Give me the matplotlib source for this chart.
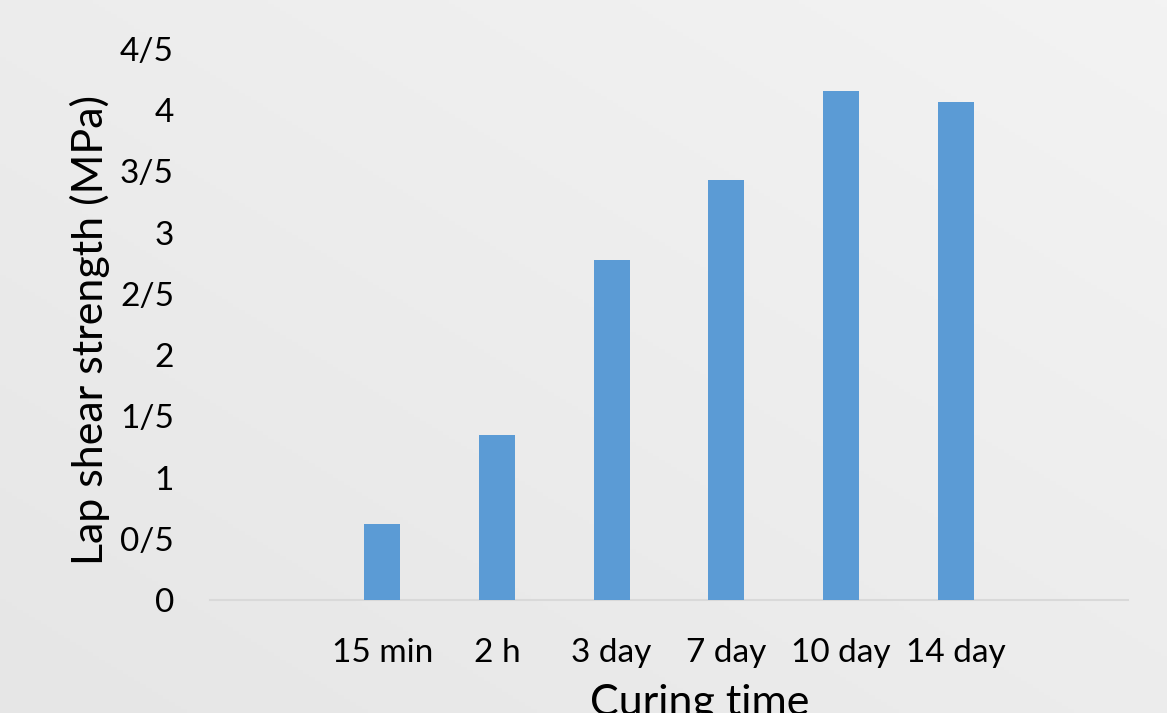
import matplotlib
matplotlib.use("Agg")
import matplotlib.pyplot as plt
import numpy as np

categories = ["", "15 min", "2 h", "3 day", "7 day", "10 day", "14 day", ""]
values = [0, 0.62, 1.35, 2.78, 3.43, 4.16, 4.07, 0]
ytick_values = [0, 0.5, 1, 1.5, 2, 2.5, 3, 3.5, 4, 4.5]
ytick_labels = ["0", "0/5", "1", "1/5", "2", "2/5", "3", "3/5", "4", "4/5"]

plt.rcParams['font.family'] = ['Lato', 'DejaVu Sans']

W, H = 1167, 713
fig = plt.figure(figsize=(W / 100, H / 100), dpi=100)

# gradient background
bg = fig.add_axes([0, 0, 1, 1], zorder=-10)
yy, xx = np.mgrid[0:1:200j, 0:1:200j]
grad = 0.5 * xx + 0.5 * yy
bg.imshow(grad, cmap=matplotlib.colors.LinearSegmentedColormap.from_list(
    "g", ["#e6e6e6", "#f3f3f3"]), origin="lower", extent=[0, 1, 0, 1],
    aspect="auto")
bg.axis("off")

ax = fig.add_axes([210 / W, 1 - 600 / H, (1128 - 210) / W, (600 - 49) / H])
ax.patch.set_alpha(0)
x = np.arange(len(categories))
ax.bar(x, values, width=0.313, color="#5B9BD5", zorder=3)
ax.set_xlim(-0.5, len(categories) - 0.5)
ax.set_ylim(0, 4.5)
ax.set_yticks(ytick_values)
ax.set_yticklabels(ytick_labels)
ax.set_xticks(x)
ax.set_xticklabels(categories)
for s in ["top", "right", "left"]:
    ax.spines[s].set_visible(False)
ax.spines["bottom"].set_color("#d9d9d9")
ax.spines["bottom"].set_linewidth(1.5)
ax.tick_params(axis="both", length=0, labelsize=24, colors="black")
ax.tick_params(axis="y", pad=26)
ax.tick_params(axis="x", pad=27)
ax.set_ylabel("Lap shear strength (MPa)", fontsize=31)
ax.yaxis.label.set_verticalalignment("center")
ax.yaxis.set_label_coords((90 - 210) / 918, (600 - 330) / 551)
ax.set_xlabel("Curing time", fontsize=31)
ax.xaxis.set_label_coords((700 - 210) / 918, (600 - 684) / 551)

fig.savefig("out.png", dpi=100)
